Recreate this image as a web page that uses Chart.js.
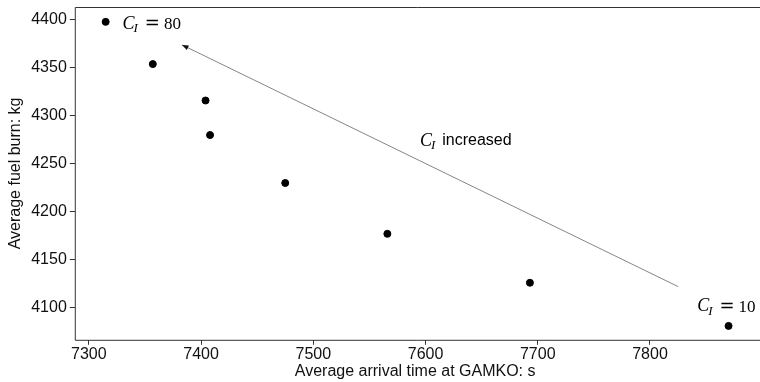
<!DOCTYPE html>
<html>
<head>
<meta charset="utf-8">
<script src="https://cdn.jsdelivr.net/npm/chart.js@4.4.0/dist/chart.umd.min.js"></script>
<style>
  html, body { margin: 0; padding: 0; background: #fff; }
  #wrap { width: 760px; height: 382px; }
</style>
</head>
<body>
<div id="wrap"><canvas id="chart" width="760" height="382"></canvas></div>
<script>
// données
const arrivalTime = [7315, 7357, 7404, 7408, 7475, 7566, 7693, 7870];
const fuelBurn = [4398, 4354, 4316, 4280, 4230, 4177, 4126, 4081];
const xTicks = [7300, 7400, 7500, 7600, 7700, 7800];
const yTicks = [4100, 4150, 4200, 4250, 4300, 4350, 4400];

// flèche "C_I increased" (coordonnées dans les données)
const arrowFrom = [7825, 4122];
const arrowTo = [7383, 4374];

// étiquettes
const labels = [
    { x: 7330, y: 4396, value: '80' },
    { x: 7842, y: 4101, value: '10' },
    { x: 7595, y: 4274, value: null, text: 'increased' }
];

const tickFont = { family: 'Liberation Sans', size: 16 };

// Dessine C_I avec l'indice
function drawCI(ctx, x, y, size) {
    ctx.textBaseline = 'middle';
    ctx.textAlign = 'left';
    ctx.font = `italic ${size}px "Liberation Serif"`;
    ctx.fillText('C', x, y);
    let w = ctx.measureText('C').width;
    ctx.font = `italic ${Math.round(size * 0.7)}px "Liberation Serif"`;
    ctx.fillText('I', x + w - 1, y + size * 0.25);
    w += ctx.measureText('I').width - 1;
    return x + w;
}

const annotations = {
    id: 'annotations',
    afterDatasetsDraw(chart) {
        const ctx = chart.ctx;
        const xs = chart.scales.x;
        const ys = chart.scales.y;
        const a = chart.chartArea;

        ctx.save();
        // cadre (le côté droit sort de l'image)
        ctx.strokeStyle = '#333';
        ctx.lineWidth = 1;
        ctx.beginPath();
        ctx.moveTo(chart.width, a.top + 0.5);
        ctx.lineTo(a.left + 0.5, a.top + 0.5);
        ctx.lineTo(a.left + 0.5, a.bottom + 0.5);
        ctx.lineTo(chart.width, a.bottom + 0.5);
        ctx.stroke();

        // flèche
        const x1 = xs.getPixelForValue(arrowFrom[0]), y1 = ys.getPixelForValue(arrowFrom[1]);
        const x2 = xs.getPixelForValue(arrowTo[0]), y2 = ys.getPixelForValue(arrowTo[1]);
        ctx.strokeStyle = '#666';
        ctx.lineWidth = 0.8;
        ctx.beginPath();
        ctx.moveTo(x1, y1);
        ctx.lineTo(x2, y2);
        ctx.stroke();
        const ang = Math.atan2(y2 - y1, x2 - x1);
        ctx.fillStyle = '#111';
        ctx.beginPath();
        ctx.moveTo(x2, y2);
        ctx.lineTo(x2 - 7 * Math.cos(ang - 0.35), y2 - 7 * Math.sin(ang - 0.35));
        ctx.lineTo(x2 - 7 * Math.cos(ang + 0.35), y2 - 7 * Math.sin(ang + 0.35));
        ctx.closePath();
        ctx.fill();

        // textes
        ctx.fillStyle = '#000';
        labels.forEach(l => {
            const px = xs.getPixelForValue(l.x);
            const py = ys.getPixelForValue(l.y);
            let nx = drawCI(ctx, px, py, 18);
            if (l.value) {
                ctx.font = '18px "DejaVu Sans"';
                ctx.fillText('=', nx + 7, py);
                nx += 7 + ctx.measureText('=').width + 4;
                ctx.font = '17px "Liberation Serif"';
                ctx.fillText(l.value, nx, py + 1);
            } else {
                ctx.font = '16px "Liberation Sans"';
                ctx.fillText(l.text, nx + 7, py);
            }
        });
        ctx.restore();
    }
};

// supprimer le débord des étiquettes pour placer la zone comme dans la figure
function noOverhang(scale) {
    scale.paddingTop = 0;
    scale.paddingBottom = 0;
    scale.paddingLeft = 0;
    scale.paddingRight = 0;
}

new Chart(document.getElementById('chart'), {
    type: 'scatter',
    data: {
        datasets: [{
            data: arrivalTime.map((v, i) => ({ x: v, y: fuelBurn[i] })),
            backgroundColor: '#000',
            borderColor: '#000',
            pointRadius: 3.5,
            pointHoverRadius: 3.5
        }]
    },
    options: {
        responsive: false,
        animation: false,
        layout: { padding: { top: 7, right: 0, left: 6, bottom: 2 } },
        plugins: {
            legend: { display: false },
            tooltip: { enabled: false }
        },
        scales: {
            x: {
                type: 'linear',
                min: 7287.5,
                max: 7894,
                afterBuildTicks: s => { s.ticks = xTicks.map(v => ({ value: v })); },
                afterFit: noOverhang,
                ticks: { color: '#111', font: tickFont, padding: 0, maxRotation: 0, callback: v => String(v) },
                grid: { drawOnChartArea: false, drawTicks: true, tickLength: 5, color: '#333' },
                border: { display: false },
                title: { display: true, text: 'Average arrival time at GAMKO: s', color: '#111', font: { family: 'Liberation Sans', size: 16, lineHeight: 1.0 }, padding: { top: 0, bottom: 0 } }
            },
            y: {
                type: 'linear',
                min: 4066.5,
                max: 4413.5,
                afterBuildTicks: s => { s.ticks = yTicks.map(v => ({ value: v })); },
                afterFit: noOverhang,
                ticks: { color: '#111', font: tickFont, padding: 3, callback: v => String(v) },
                grid: { drawOnChartArea: false, drawTicks: true, tickLength: 5, color: '#333' },
                border: { display: false },
                title: { display: true, text: 'Average fuel burn: kg', color: '#111', font: tickFont, padding: { top: 0, bottom: 3 } }
            }
        }
    },
    plugins: [annotations]
});
</script>
</body>
</html>
